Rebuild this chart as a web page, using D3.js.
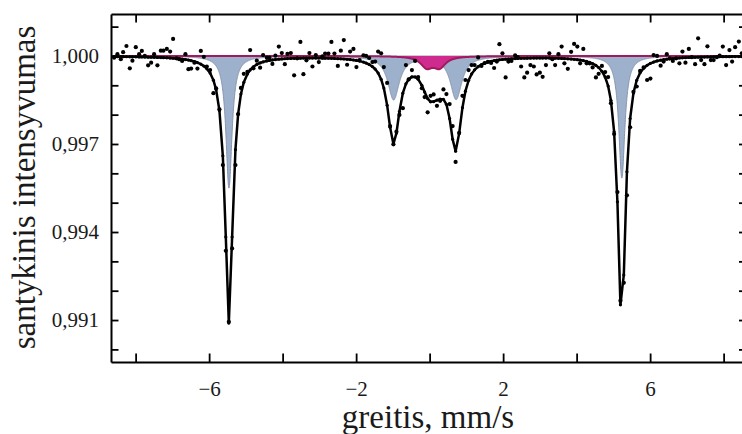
<!DOCTYPE html>
<html>
<head>
<meta charset="utf-8">
<script src="https://cdn.jsdelivr.net/npm/d3@7"></script>
<style>
  html, body { margin: 0; padding: 0; background: #fff; }
  svg { display: block; }
  text { font-family: "Liberation Serif", "Times New Roman", serif; fill: #1a1a1a; }
</style>
</head>
<body>
<svg id="chart" width="742" height="434"></svg>
<script>
// Measured spectrum: source velocity (mm/s) and relative transmission
const velocity = [
  -8.585,-8.495,-8.403,-8.340,-8.250,-8.158,-8.087,-7.995,-7.905,-7.831,
  -7.750,-7.660,-7.578,-7.497,-7.407,-7.314,-7.244,-7.151,-7.061,-6.980,
  -6.890,-6.816,-6.735,-6.645,-6.563,-6.490,-6.400,-6.318,-6.226,-6.144,
  -6.063,-5.973,-5.883,-5.810,-5.720,-5.627,-5.546,-5.464,-5.374,-5.284,
  -5.211,-5.135,-5.056,-4.958,-4.884,-4.795,-4.702,-4.612,-4.531,-4.430,
  -4.359,-4.278,-4.196,-4.103,-4.022,-3.940,-3.869,-3.777,-3.687,-3.605,
  -3.516,-3.434,-3.352,-3.271,-3.189,-3.097,-3.015,-2.917,-2.844,-2.754,
  -2.672,-2.590,-2.498,-2.416,-2.335,-2.245,-2.163,-2.073,-1.992,-1.905,
  -1.801,-1.728,-1.646,-1.556,-1.483,-1.401,-1.320,-1.246,-1.156,-1.075,
  -0.985,-0.903,-0.822,-0.729,-0.645,-0.571,-0.482,-0.395,-0.313,-0.212,
  -0.136,-0.054,0.027,0.109,0.199,0.286,0.376,0.457,0.544,0.626,
  0.707,0.803,0.893,0.974,1.061,1.143,1.224,1.320,1.410,1.497,
  1.584,1.673,1.755,1.829,1.899,1.981,2.068,2.144,2.226,2.327,
  2.400,2.490,2.577,2.653,2.743,2.835,2.912,2.999,3.075,3.165,
  3.257,3.339,3.415,3.505,3.592,3.668,3.760,3.850,3.932,4.019,
  4.095,4.182,4.272,4.354,4.435,4.525,4.599,4.688,4.776,4.857,
  4.933,5.020,5.110,5.192,5.284,5.369,5.456,5.546,5.635,5.728,
  5.823,5.918,6.008,6.095,6.190,6.286,6.367,6.454,6.536,6.618,
  6.707,6.797,6.879,6.961,7.053,7.135,7.224,7.306,7.388,7.478,
  7.559,7.652,7.728,7.815,7.891,7.978,8.068,8.158,8.231,8.313,
  8.414,8.495
];
const intensity = [
  0.99994,1.00006,0.99989,1.00013,1.00034,0.99958,0.99984,1.00030,1.00006,1.00017,
  1.00000,0.99968,0.99977,1.00006,0.99968,1.00018,1.00018,1.00024,1.00015,1.00058,
  0.99992,0.99989,0.99983,1.00006,0.99955,0.99957,0.99977,0.99957,1.00017,0.99997,
  0.99964,0.99952,0.99873,0.99890,0.99818,0.99628,0.99336,0.99094,0.99344,0.99628,
  0.99802,0.99891,0.99939,0.99946,1.00020,0.99958,0.99984,0.99960,1.00003,0.99994,
  0.99994,0.99973,1.00001,1.00032,1.00010,0.99972,1.00007,1.00010,0.99934,0.99992,
  1.00048,0.99938,0.99985,1.00010,0.99964,1.00003,0.99979,0.99999,1.00008,1.00008,
  1.00048,1.00008,0.99966,1.00018,1.00054,0.99970,1.00015,1.00024,0.99962,0.99986,
  1.00002,1.00000,0.99993,0.99979,0.99981,1.00015,1.00009,0.99962,0.99908,0.99761,
  0.99699,0.99742,0.99799,0.99822,0.99969,0.99920,0.99952,0.99983,0.99928,0.99890,
  0.99860,0.99808,0.99864,0.99869,0.99830,0.99847,0.99886,0.99870,0.99836,0.99761,
  0.99639,0.99738,0.99864,0.99918,0.99952,0.99969,0.99969,0.99995,0.99966,0.99976,
  0.99980,0.99976,0.99959,0.99981,1.00040,1.00009,0.99927,0.99981,0.99983,1.00002,
  0.99996,0.99964,0.99927,0.99943,0.99969,0.99964,0.99937,0.99943,0.99929,0.99969,
  1.00009,0.99989,0.99969,1.00006,1.00032,0.99975,0.99956,1.00014,1.00041,1.00032,
  0.99975,1.00024,0.99975,0.99975,0.99961,0.99927,0.99939,0.99966,0.99945,0.99928,
  0.99839,0.99734,0.99536,0.99166,0.99227,0.99525,0.99757,0.99878,0.99896,0.99949,
  0.99961,0.99918,0.99923,1.00003,1.00000,0.99967,0.99981,1.00006,0.99992,0.99983,
  0.99992,0.99975,1.00015,0.99977,1.00024,0.99996,0.99972,1.00060,0.99986,0.99972,
  1.00033,0.99986,0.99986,0.99996,1.00001,1.00032,0.99969,1.00020,0.99981,1.00030,
  1.00049,1.00009
];

// Fitted Lorentzian lines: position (mm/s), depth, half width (mm/s)
// shaded magnetic component (blue)
const sextetPos   = [-5.46, -0.98, 0.72, 5.23];
const sextetDepth = [0.00450, 0.00148, 0.00147, 0.00416];
const sextetWidth = [0.10, 0.19, 0.19, 0.10];
// shaded paramagnetic doublet (magenta)
const doubletPos   = [-0.08, 0.27];
const doubletDepth = [0.00036, 0.00036];
const doubletWidth = [0.20, 0.20];
// remaining lines of the total fit
const otherPos   = [-5.46, -0.98, 0.05, 0.70, 5.22];
const otherDepth = [0.00460, 0.00140, 0.00080, 0.00155, 0.00500];
const otherWidth = [0.16, 0.20, 0.25, 0.20, 0.15];

// Axes
const xTicks = [-8, -6, -4, -2, 0, 2, 4, 6, 8];
const xLabels = [-6, -2, 2, 6];
const yTicks = [0.990, 0.991, 0.992, 0.993, 0.994, 0.995, 0.996, 0.997, 0.998, 0.999, 1.000, 1.001];
const yLabels = [0.991, 0.994, 0.997, 1.000];
const xTitle = "greitis, mm/s";
const yTitle = "santykinis intensyvumas";

const svg = d3.select("#chart");
const pLeft = 111, pRight = 742, pTop = 14, pBottom = 362;

const x = d3.scaleLinear().domain([-8.67, 8.50]).range([pLeft, pRight]);
const y = d3.scaleLinear().domain([0.98957, 1.00143]).range([pBottom, pTop]);

function absorption(v, pos, depth, width) {
  let s = 0;
  for (let i = 0; i < pos.length; i++) {
    const t = (v - pos[i]) / width[i];
    s += depth[i] / (1 + t * t);
  }
  return s;
}
const sextetCurve = v => 1 - absorption(v, sextetPos, sextetDepth, sextetWidth);
const doubletCurve = v => 1 - absorption(v, doubletPos, doubletDepth, doubletWidth);
const totalFit = v => 1 - absorption(v, sextetPos, sextetDepth, sextetWidth)
                        - absorption(v, doubletPos, doubletDepth, doubletWidth)
                        - absorption(v, otherPos, otherDepth, otherWidth);

svg.append("defs").append("clipPath").attr("id", "plotClip")
  .append("rect").attr("x", pLeft).attr("y", pTop)
  .attr("width", pRight - pLeft).attr("height", pBottom - pTop);

const plot = svg.append("g").attr("clip-path", "url(#plotClip)");

// fine velocity grid for drawing the component curves
const grid = d3.range(x.domain()[0], x.domain()[1] + 0.004, 0.004);

const compArea = f => d3.area()
  .x(v => x(v))
  .y0(y(1))
  .y1(v => y(f(v)));

plot.append("path")
  .datum(grid)
  .attr("d", compArea(sextetCurve))
  .attr("fill", "#9eb1cc")
  .attr("stroke", "#8594ad")
  .attr("stroke-width", 1);

plot.append("path")
  .datum(grid)
  .attr("d", compArea(doubletCurve))
  .attr("fill", "#cf2b8e");

plot.append("path")
  .datum(grid)
  .attr("d", d3.line().x(v => x(v)).y(v => y(doubletCurve(v))))
  .attr("fill", "none")
  .attr("stroke", "#a01a5e")
  .attr("stroke-width", 2);

// total fit evaluated at the measured velocities
const fitPoints = velocity.map(v => [v, totalFit(v)]);
plot.append("path")
  .datum(fitPoints)
  .attr("d", d3.line().x(d => x(d[0])).y(d => y(d[1])))
  .attr("fill", "none")
  .attr("stroke", "#000")
  .attr("stroke-width", 2.5)
  .attr("stroke-linejoin", "round");

plot.append("g").selectAll("circle")
  .data(fitPoints)
  .join("circle")
  .attr("cx", d => x(d[0]))
  .attr("cy", d => y(d[1]))
  .attr("r", 1.6)
  .attr("fill", "#000");

// measured points
plot.append("g").selectAll("circle")
  .data(velocity.map((v, i) => [v, intensity[i]]))
  .join("circle")
  .attr("cx", d => x(d[0]))
  .attr("cy", d => y(d[1]))
  .attr("r", 2.1)
  .attr("fill", "#000");

// frame and ticks
const commaFmt = v => d3.format(".3f")(v).replace(".", ",");
const isLabel = (arr, v) => arr.some(a => Math.abs(a - v) < 1e-9);

function styleAxis(g) {
  g.select(".domain").attr("stroke", "#000").attr("stroke-width", 2);
  g.selectAll(".tick line").attr("stroke", "#000").attr("stroke-width", 1.8);
  g.selectAll(".tick text").attr("font-size", 21)
    .attr("font-family", "'Liberation Serif', 'Times New Roman', serif")
    .attr("fill", "#1a1a1a");
}

svg.append("g")
  .attr("transform", `translate(0,${pBottom})`)
  .call(d3.axisBottom(x).tickValues(xTicks).tickSize(-8.5).tickSizeOuter(0)
    .tickPadding(19).tickFormat(v => isLabel(xLabels, v) ? d3.format("")(v) : ""))
  .call(styleAxis);

svg.append("g")
  .attr("transform", `translate(${pLeft},0)`)
  .call(d3.axisLeft(y).tickValues(yTicks).tickSize(-7.5).tickSizeOuter(0)
    .tickPadding(12).tickFormat(v => isLabel(yLabels, v) ? commaFmt(v) : ""))
  .call(styleAxis);

svg.append("g")
  .attr("transform", `translate(0,${pTop})`)
  .call(d3.axisTop(x).tickValues(xTicks).tickSize(-8.5).tickSizeOuter(0).tickFormat(""))
  .call(styleAxis);

svg.append("g")
  .attr("transform", `translate(${pRight + 1},0)`)
  .call(d3.axisRight(y).tickValues(yTicks).tickSize(-4).tickSizeOuter(0).tickFormat(""))
  .call(styleAxis);

// axis titles
svg.append("text")
  .attr("x", 428).attr("y", 428)
  .attr("text-anchor", "middle")
  .attr("font-size", 33)
  .text(xTitle);

svg.append("text")
  .attr("transform", "translate(35,187.5) rotate(-90)")
  .attr("text-anchor", "middle")
  .attr("font-size", 33)
  .text(yTitle);
</script>
</body>
</html>
